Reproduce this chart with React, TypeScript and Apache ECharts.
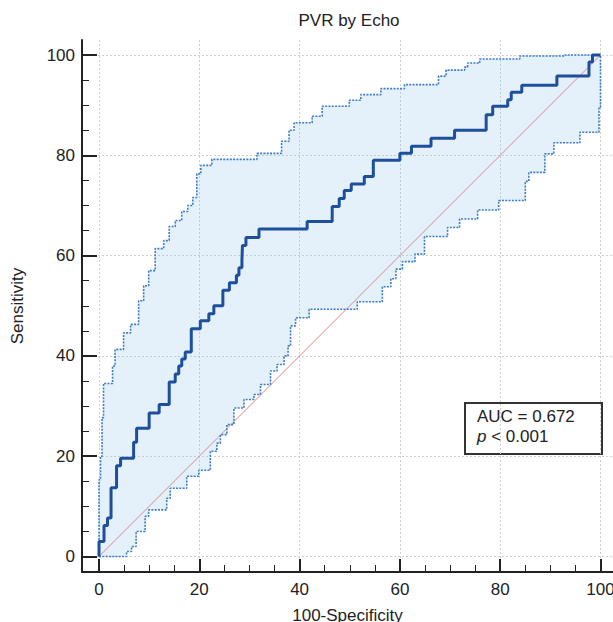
import React, { useEffect, useRef } from 'react';
import * as echarts from 'echarts';

// ROC curve step points (100-Specificity, Sensitivity): right to x, then up to y
const rocX = [0, 0, 1, 1.7, 2.4, 3.5, 4.3, 6.9, 7.5, 10, 12, 14, 15.2, 15.9, 16.5, 17.2, 18.4, 20.2, 21.9, 22.9, 24.7, 26, 27.4, 27.9, 28.5, 28.6, 29.3, 31.9, 41.5, 46.5, 47.9, 48.9, 50.3, 52.9, 54.7, 60, 62.3, 66.2, 70.9, 77.2, 78.5, 81.5, 82.2, 84.3, 91.3, 97.7, 98.4, 100];
const rocY = [0, 3, 6.2, 7.7, 13.7, 18.1, 19.6, 22.8, 25.6, 28.6, 30.3, 34.8, 36.4, 38, 39.4, 40.8, 45.4, 47, 48.4, 50, 53.1, 54.6, 56.1, 57.6, 59, 62, 63.6, 65.3, 66.8, 69.8, 71.4, 73, 74.3, 75.8, 79, 80.4, 81.8, 83.4, 85, 88.1, 89.8, 91.1, 92.6, 94, 95.8, 98.6, 100, 100];

// Upper confidence bound
const upperX = [0, 0, 0.3, 0.6, 0.9, 2.7, 3.2, 4.9, 6.3, 7.9, 8.9, 9.9, 11.2, 12.9, 14, 15.2, 16.5, 17.7, 18.7, 19.5, 20.3, 22.5, 31.5, 36.4, 37.9, 38.9, 42.5, 44.5, 49.9, 52.2, 56.2, 60.9, 67.7, 69.2, 72.9, 73.5, 75.9, 83.9, 92.9, 100];
const upperY = [0, 15.3, 20, 27.7, 34.5, 38, 41.3, 44.6, 46.3, 51, 54, 57, 61.4, 63, 65.8, 67, 68.8, 70, 71.6, 76.3, 78, 79.2, 80.4, 82.8, 85, 86.5, 87.8, 89.8, 91, 92.1, 93.3, 94.1, 95.8, 97, 97.6, 98.4, 99.2, 99.8, 100, 100];

// Lower confidence bound
const lowerX = [0, 5.5, 6.5, 7.4, 9.2, 9.9, 13.5, 14.2, 17.5, 19.9, 22.2, 23.5, 24.2, 25.5, 26.9, 28.9, 30.9, 32.2, 34.2, 35.5, 36.9, 37.7, 38.2, 39.2, 41.9, 51.5, 56.5, 58.2, 59.2, 60.5, 63, 64.9, 69.5, 71.9, 75.5, 79.7, 85, 85.7, 88.9, 90.7, 95.9, 99.7, 100];
const lowerY = [0, 1, 2, 5, 8, 9.3, 11.6, 13.6, 16, 17.2, 21, 22.6, 24.3, 26.3, 29.6, 31.3, 32.3, 34.3, 37, 38.3, 40, 42, 46, 47.6, 49.3, 50.8, 53.8, 55.4, 57.3, 58.8, 60.3, 63.8, 65.6, 67.3, 69.1, 71, 74.8, 76.6, 80.3, 82.5, 84.6, 89.6, 100];

// Reference diagonal
const diagX = [0, 100];
const diagY = [0, 100];

// Tick values
const majorTicks = [0, 20, 40, 60, 80, 100];
const minorTicks = [5, 10, 15, 25, 30, 35, 45, 50, 55, 65, 70, 75, 85, 90, 95];

const FONT = '"Liberation Sans", Arial, sans-serif';
const TXT = '#222';

function stepVertices(xs: number[], ys: number[]): number[][] {
  const out: number[][] = [];
  for (let i = 0; i < xs.length; i++) {
    out.push([xs[i], ys[i]]);
    if (i < xs.length - 1) out.push([xs[i + 1], ys[i]]);
  }
  return out;
}

export default function App() {
  const ref = useRef<HTMLDivElement>(null);
  useEffect(() => {
    const chart = echarts.init(ref.current!, null, { renderer: 'svg' });
    const upperPoly = stepVertices(upperX, upperY);
    const lowerPoly = stepVertices(lowerX, lowerY).reverse();
    const bandPoly = upperPoly.concat(lowerPoly);

    const xMain: any = {
      type: 'value',
      gridIndex: 0,
      min: -3.39,
      max: 102.49,
      position: 'bottom',
      axisLine: { show: true, onZero: false, lineStyle: { color: TXT, width: 2 } },
      axisTick: { show: true, inside: true, length: 13, customValues: majorTicks, lineStyle: { color: TXT, width: 2 } },
      axisLabel: { customValues: majorTicks, margin: 9, fontSize: 17, color: TXT, fontFamily: FONT },
      splitLine: { show: true, lineStyle: { color: '#cfcfcf', type: [2, 2], width: 1 } },
      name: '100-Specificity',
      nameLocation: 'middle',
      nameGap: 35,
      nameTextStyle: { fontSize: 17, color: TXT, fontFamily: FONT },
    };
    const xMinor: any = {
      type: 'value',
      gridIndex: 0,
      min: -3.39,
      max: 102.49,
      position: 'bottom',
      axisLine: { show: false, onZero: false },
      axisTick: { show: true, inside: true, length: 7, customValues: minorTicks, lineStyle: { color: TXT, width: 1 } },
      axisLabel: { show: false },
      splitLine: { show: false },
    };
    const yMain: any = {
      type: 'value',
      gridIndex: 0,
      min: -3.09,
      max: 103.0,
      position: 'left',
      axisLine: { show: true, onZero: false, lineStyle: { color: TXT, width: 2 } },
      axisTick: { show: true, inside: true, length: 15, customValues: majorTicks, lineStyle: { color: TXT, width: 2 } },
      axisLabel: { customValues: majorTicks, margin: 7, fontSize: 17, color: TXT, fontFamily: FONT },
      splitLine: { show: true, lineStyle: { color: '#cfcfcf', type: [2, 2], width: 1 } },
      name: 'Sensitivity',
      nameLocation: 'middle',
      nameGap: 56,
      nameTextStyle: { fontSize: 17, color: TXT, fontFamily: FONT },
    };
    const yMinor: any = {
      type: 'value',
      gridIndex: 0,
      min: -3.09,
      max: 103.0,
      position: 'left',
      axisLine: { show: false, onZero: false },
      axisTick: { show: true, inside: true, length: 7, customValues: minorTicks, lineStyle: { color: TXT, width: 1 } },
      axisLabel: { show: false },
      splitLine: { show: false },
    };

    const option: any = {
      animation: false,
      backgroundColor: '#ffffff',
      title: {
        text: 'PVR by Echo',
        left: 349,
        top: 12,
        padding: 0,
        textAlign: 'center',
        textStyle: { fontSize: 17, fontWeight: 'normal', color: TXT, fontFamily: FONT },
      },
      grid: { left: 82, right: 0, top: 40, bottom: 50, containLabel: false, outerBoundsMode: 'none' },
      xAxis: [xMain, xMinor],
      yAxis: [yMain, yMinor],
      series: [
        {
          type: 'line',
          xAxisIndex: 0,
          yAxisIndex: 0,
          data: diagX.map((x, i) => [x, diagY[i]]),
          showSymbol: false,
          symbol: 'none',
          lineStyle: { color: '#e08080', width: 1 },
          silent: true,
          z: 2,
        },
        {
          type: 'custom',
          xAxisIndex: 0,
          yAxisIndex: 0,
          data: [[0, 0]],
          silent: true,
          z: 3,
          renderItem: (_params: any, api: any) => {
            const pts = bandPoly.map((p) => api.coord(p));
            return {
              type: 'polygon',
              shape: { points: pts },
              style: { fill: 'rgba(140,190,235,0.23)', stroke: 'none' },
            };
          },
        },
        {
          type: 'line',
          xAxisIndex: 0,
          yAxisIndex: 0,
          step: 'end',
          data: upperX.map((x, i) => [x, upperY[i]]),
          showSymbol: false,
          symbol: 'none',
          lineStyle: { color: '#3d7cc9', width: 1.6, type: [2, 1.3] },
          silent: true,
          z: 4,
        },
        {
          type: 'line',
          xAxisIndex: 0,
          yAxisIndex: 0,
          step: 'end',
          data: lowerX.map((x, i) => [x, lowerY[i]]),
          showSymbol: false,
          symbol: 'none',
          lineStyle: { color: '#3d7cc9', width: 1.6, type: [2, 1.3] },
          silent: true,
          z: 4,
        },
        {
          type: 'line',
          xAxisIndex: 0,
          yAxisIndex: 0,
          step: 'end',
          data: rocX.map((x, i) => [x, rocY[i]]),
          showSymbol: false,
          symbol: 'none',
          lineStyle: { color: '#1d4f9c', width: 3 },
          silent: true,
          z: 5,
        },
      ],
      graphic: [
        {
          type: 'group',
          left: 464,
          top: 402,
          z: 100,
          children: [
            {
              type: 'rect',
              shape: { x: 0, y: 0, width: 137, height: 51 },
              style: { fill: '#ffffff', stroke: '#333333', lineWidth: 2 },
            },
            {
              type: 'text',
              x: 12,
              y: 3,
              style: {
                text: 'AUC = 0.672\n{i|p} < 0.001',
                fontSize: 17,
                fontFamily: FONT,
                fill: TXT,
                lineHeight: 20,
                verticalAlign: 'top',
                rich: {
                  i: { fontStyle: 'italic', fontSize: 17, fontFamily: FONT, fill: TXT, lineHeight: 20 },
                },
              },
            },
          ],
        },
      ],
    };
    chart.setOption(option);
    return () => chart.dispose();
  }, []);
  return (
    <div
      ref={ref}
      style={{ position: 'fixed', left: 0, top: 0, width: 613, height: 622, background: '#fff' }}
    />
  );
}
